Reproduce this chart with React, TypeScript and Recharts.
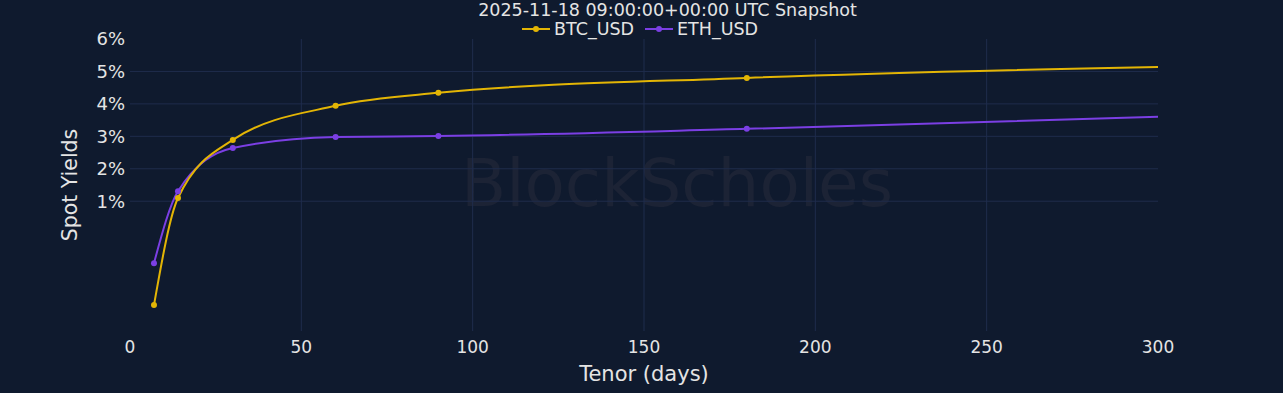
import { LineChart, Line, XAxis, YAxis, CartesianGrid } from "recharts";

const tenors = [7, 14, 30, 60, 90, 180, 300];
const btcYields = [-2.2, 1.1, 2.89, 3.94, 4.34, 4.8, 5.14];
const ethYields = [-0.91, 1.31, 2.64, 2.98, 3.01, 3.23, 3.6];
const markerTenors = [7, 14, 30, 60, 90, 180];

const xTicks = [0, 50, 100, 150, 200, 250, 300];
const yTicks = [1, 2, 3, 4, 5, 6];

const data = tenors.map((t, i) => ({ tenor: t, btc: btcYields[i], eth: ethYields[i] }));

const BG = "#0f1a2e";
const GRID = "#1f2c4c";
const TEXT = "#e4e4e4";
const BTC = "#e3b505";
const ETH = "#7b3fe4";
const FONT = "'DejaVu Sans', Verdana, sans-serif";

function makeDot(color: string) {
  return (props: any) => {
    const { cx, cy, payload, index } = props;
    if (!markerTenors.includes(payload.tenor)) return <g key={`d-${index}`} />;
    return <circle key={`d-${index}`} cx={cx} cy={cy} r={3} fill={color} stroke="none" />;
  };
}

function LegendItem({ color, label }: { color: string; label: string }) {
  return (
    <div style={{ display: "flex", alignItems: "center", marginRight: 10 }}>
      <svg width={30} height={10}>
        <line x1={1} y1={5} x2={29} y2={5} stroke={color} strokeWidth={2} />
        <circle cx={15} cy={5} r={3} fill={color} />
      </svg>
      <span style={{ marginLeft: 3 }}>{label}</span>
    </div>
  );
}

export default function App() {
  return (
    <div
      style={{
        position: "absolute",
        left: 0,
        top: 0,
        width: 1283,
        height: 393,
        background: BG,
        fontFamily: FONT,
        color: TEXT,
        overflow: "hidden",
      }}
    >
      {/* watermark */}
      <div
        style={{
          position: "absolute",
          left: 0,
          width: 1354,
          top: 146,
          textAlign: "center",
          fontSize: 66,
          lineHeight: "76px",
          color: "#1c2335",
        }}
      >
        BlockScholes
      </div>

      <LineChart
        width={1283}
        height={393}
        data={data}
        margin={{ top: 39, right: 125, bottom: 32, left: 0 }}
        style={{ position: "absolute", left: 0, top: 0 }}
      >
        <CartesianGrid
          stroke={GRID}
          strokeWidth={1}
          horizontalValues={[1, 2, 3, 4, 5]}
          verticalValues={[50, 100, 150, 200, 250]}
        />
        <XAxis
          dataKey="tenor"
          type="number"
          domain={[0, 300]}
          ticks={xTicks}
          allowDataOverflow
          height={30}
          axisLine={false}
          tickLine={false}
          tickSize={0}
          tickMargin={10}
          tick={{ fontSize: 17, fill: TEXT, fontFamily: FONT }}
        />
        <YAxis
          type="number"
          domain={[-3, 6]}
          ticks={yTicks}
          allowDataOverflow
          width={130}
          axisLine={false}
          tickLine={false}
          tickSize={0}
          tickMargin={5}
          tickFormatter={(v) => `${v}%`}
          tick={{ fontSize: 18, fill: TEXT, fontFamily: FONT }}
        />
        <Line
          type="monotone"
          dataKey="eth"
          stroke={ETH}
          strokeWidth={2}
          dot={makeDot(ETH)}
          activeDot={false}
          isAnimationActive={false}
        />
        <Line
          type="monotone"
          dataKey="btc"
          stroke={BTC}
          strokeWidth={2}
          dot={makeDot(BTC)}
          activeDot={false}
          isAnimationActive={false}
        />
      </LineChart>

      {/* title */}
      <div
        style={{
          position: "absolute",
          left: 0,
          width: 1335,
          top: 0,
          textAlign: "center",
          fontSize: 17.5,
          lineHeight: "20px",
        }}
      >
        2025-11-18 09:00:00+00:00 UTC Snapshot
      </div>

      {/* legend */}
      <div
        style={{
          position: "absolute",
          left: 521,
          top: 21,
          display: "flex",
          fontSize: 17.5,
          lineHeight: "16px",
        }}
      >
        <LegendItem color={BTC} label="BTC_USD" />
        <LegendItem color={ETH} label="ETH_USD" />
      </div>

      {/* axis titles */}
      <div
        style={{
          position: "absolute",
          left: 70,
          top: 185,
          transform: "translate(-50%, -50%) rotate(-90deg)",
          fontSize: 20.5,
          whiteSpace: "nowrap",
        }}
      >
        Spot Yields
      </div>
      <div
        style={{
          position: "absolute",
          left: 644,
          top: 374,
          transform: "translate(-50%, -50%)",
          fontSize: 21,
          whiteSpace: "nowrap",
        }}
      >
        Tenor (days)
      </div>
    </div>
  );
}
